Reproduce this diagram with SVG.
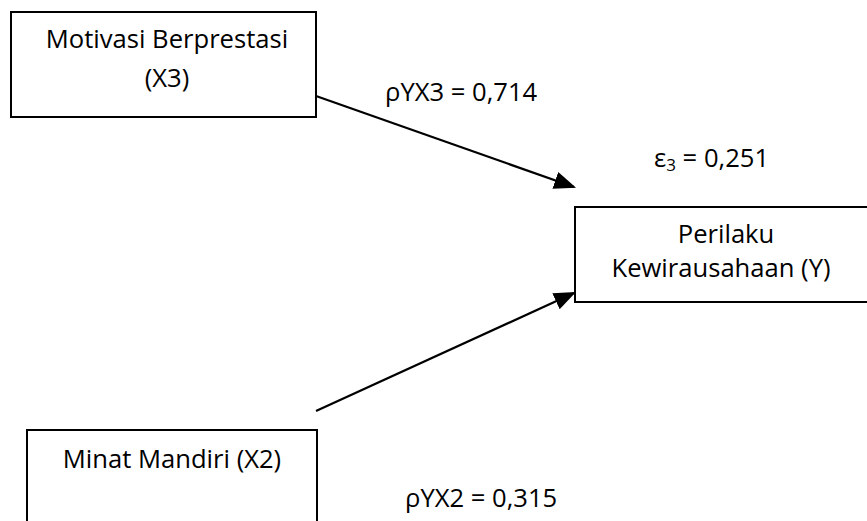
<svg xmlns="http://www.w3.org/2000/svg" width="867" height="521" viewBox="0 0 867 521">
<defs>
<style>
.box{fill:#fff;stroke:#000;stroke-width:2}
.t{font-family:"Open Sans","Liberation Sans",sans-serif;font-size:25.6px;fill:#000}
.c{text-anchor:middle}
.ln{stroke:#000;stroke-width:2.2;fill:none}
</style>
<marker id="ah" markerWidth="10" markerHeight="8" refX="9" refY="4" orient="auto" markerUnits="strokeWidth">
<path d="M0,0 L10,4 L0,8 z" fill="#000"/>
</marker>
</defs>
<rect width="867" height="521" fill="#fff"/>
<g id="connectors">
<line class="ln" x1="316" y1="96" x2="574" y2="187" marker-end="url(#ah)"/>
<line class="ln" x1="316" y1="411" x2="574" y2="293" marker-end="url(#ah)"/>
</g>
<g id="x3">
<rect class="box" x="11" y="12" width="305" height="105"/>
<text class="t c" x="167" y="48">Motivasi Berprestasi</text>
<text class="t c" x="167" y="87">(X3)</text>
</g>
<g id="y">
<rect class="box" x="575" y="207" width="300" height="95"/>
<text class="t c" x="726" y="243">Perilaku</text>
<text class="t c" x="721" y="277">Kewirausahaan (Y)</text>
</g>
<g id="x2">
<rect class="box" x="27" y="430" width="290" height="100"/>
<text class="t c" x="172" y="468">Minat Mandiri (X2)</text>
</g>
<g id="labels">
<text class="t" x="385" y="101">ρYX3 = 0,714</text>
<text class="t" x="654" y="167">ε<tspan font-size="17" dy="4">3</tspan><tspan dy="-4"> = 0,251</tspan></text>
<text class="t" x="405" y="507">ρYX2 = 0,315</text>
</g>
</svg>
